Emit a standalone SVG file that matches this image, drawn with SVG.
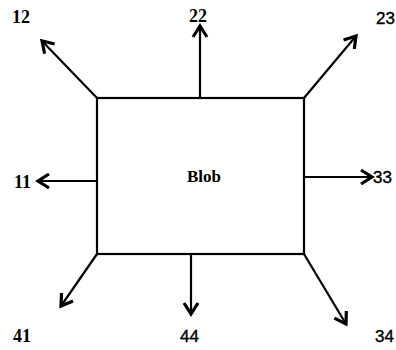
<svg xmlns="http://www.w3.org/2000/svg" width="396" height="350" viewBox="0 0 396 350">
  <defs>
    <marker id="head" markerUnits="userSpaceOnUse" markerWidth="20" markerHeight="20" viewBox="-13 -10 15 20" refX="0" refY="0" orient="auto">
      <path d="M-11,-7 L0,0 L-11,7" fill="none" stroke="#000" stroke-width="3.2"/>
    </marker>
  </defs>
  <style>
    .edge { stroke: #000; stroke-width: 2.2; fill: none; marker-end: url(#head); }
    .box { stroke: #000; stroke-width: 2.2; fill: #fff; }
    .serif { font-family: "Liberation Serif", "Times New Roman", serif; font-weight: bold; font-size: 18px; fill: #000; }
    .sans { font-family: "Liberation Sans", Arial, sans-serif; font-size: 17px; fill: #000; stroke: #000; stroke-width: 0.4; }
  </style>
  <rect width="396" height="350" fill="#fff"/>

  <g id="edges">
    <line class="edge" x1="97" y1="98" x2="42" y2="41"/>
    <line class="edge" x1="200" y1="98" x2="200" y2="26"/>
    <line class="edge" x1="304" y1="98" x2="356" y2="36"/>
    <line class="edge" x1="97" y1="181" x2="38" y2="181"/>
    <line class="edge" x1="304" y1="177" x2="372" y2="177"/>
    <line class="edge" x1="97" y1="254" x2="61" y2="306"/>
    <line class="edge" x1="191" y1="254" x2="191" y2="314"/>
    <line class="edge" x1="304" y1="254" x2="346" y2="324"/>
  </g>

  <g id="blob">
    <rect class="box" x="97" y="98" width="207" height="156"/>
    <text class="serif" x="204" y="182" text-anchor="middle" style="font-size:17px">Blob</text>
  </g>

  <g id="n12"><text class="serif" x="12" y="23">12</text></g>
  <g id="n22"><text class="serif" x="189" y="22">22</text></g>
  <g id="n23"><text class="sans" x="376" y="24">23</text></g>
  <g id="n11"><text class="serif" x="14" y="188">11</text></g>
  <g id="n33"><text class="sans" x="373" y="183">33</text></g>
  <g id="n41"><text class="serif" x="13" y="342">41</text></g>
  <g id="n44"><text class="sans" x="180" y="342">44</text></g>
  <g id="n34"><text class="sans" x="375" y="342">34</text></g>
</svg>
